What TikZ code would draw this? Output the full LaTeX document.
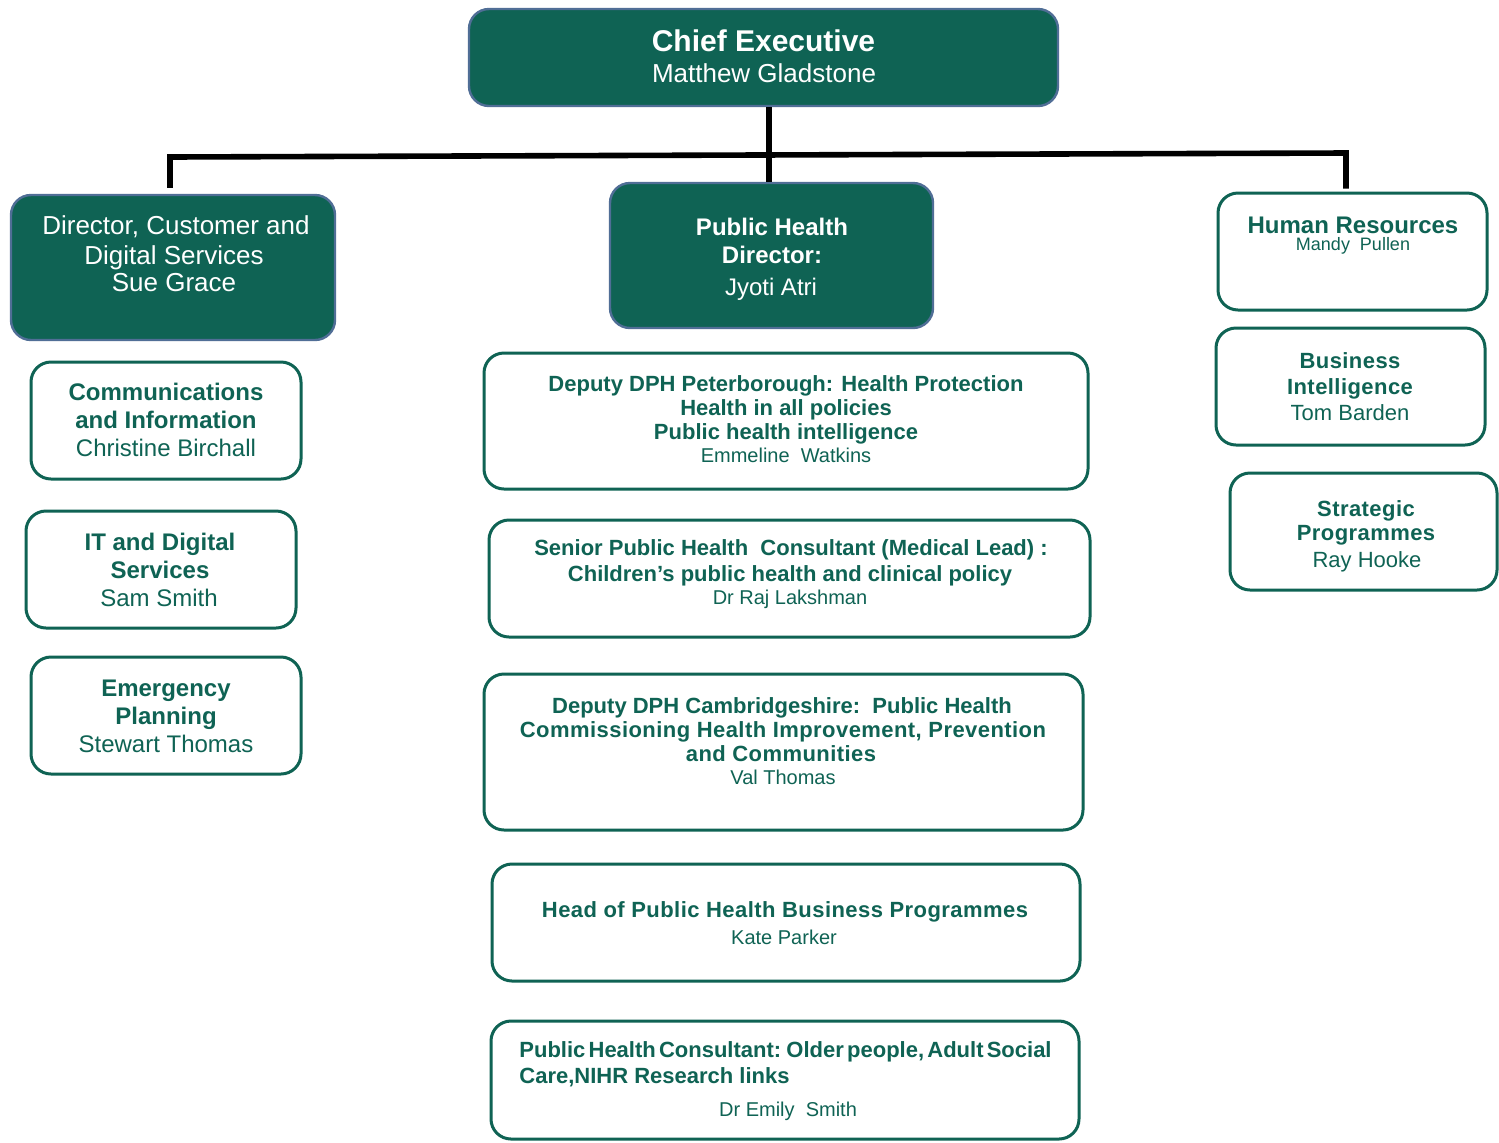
\documentclass[tikz,border=0pt]{standalone}
\usepackage{fontspec}
\setmainfont{Liberation Sans}
\definecolor{dkgreen}{RGB}{15,99,84}
\definecolor{bordblue}{RGB}{80,110,150}
\newcommand{\myfs}[1]{\fontsize{#1}{#1}\selectfont}
\newcommand{\lsp}{\addfontfeatures{LetterSpace=2}}
\tikzset{
 fbox/.style={draw=bordblue, line width=1.2pt, fill=dkgreen, rounded corners=10pt, inner sep=0pt},
 obox/.style={draw=dkgreen, line width=1.5pt, fill=white, rounded corners=10pt, inner sep=0pt},
 wt/.style={text=white, anchor=base, inner sep=0pt},
 gt/.style={text=dkgreen, anchor=base, inner sep=0pt},
 gl/.style={text=dkgreen, anchor=base west, inner sep=0pt},
 conn/.style={line width=2.8pt, black, line join=miter},
}
\begin{document}
\begin{tikzpicture}[x=0.5pt,y=-0.5pt]
\useasboundingbox[fill=white] (0,0) rectangle (1499,1142);
% boxes
\node[fbox, minimum width=294.5pt, minimum height=48.5pt] (ce) at (763.5,57.5) {};
\node[fbox, minimum width=162pt, minimum height=72.5pt] (dir) at (173,267.5) {};
\node[fbox, minimum width=161.5pt, minimum height=72.5pt] (phd) at (771.5,255.5) {};
\node[obox, minimum width=134.5pt, minimum height=58.5pt] (hr) at (1352.5,251.5) {};
\node[obox, minimum width=134.5pt, minimum height=58.5pt] (bi) at (1350.5,386.5) {};
\node[obox, minimum width=133.5pt, minimum height=58.5pt] (sp) at (1363.5,531.5) {};
\node[obox, minimum width=135pt, minimum height=58.5pt] (comm) at (166,420.5) {};
\node[obox, minimum width=135pt, minimum height=58.5pt] (it) at (161,569.5) {};
\node[obox, minimum width=135pt, minimum height=58.5pt] (ep) at (166,715.5) {};
\node[obox, minimum width=302pt, minimum height=68pt] (dpb) at (786,421) {};
\node[obox, minimum width=300.5pt, minimum height=58.5pt] (spc) at (789.5,578.5) {};
\node[obox, minimum width=299.5pt, minimum height=78pt] (dcb) at (783.5,752) {};
\node[obox, minimum width=294pt, minimum height=58.5pt] (head) at (786,922.5) {};
\node[obox, minimum width=294pt, minimum height=59pt] (phc) at (785,1080) {};
% connectors
\coordinate (jm) at (769,155);
\coordinate (jl) at (170,157);
\coordinate (jr) at (1346,153);
\draw[conn] (ce.south -| jm) -- (jm);
\draw[conn] (jm) -- (phd.north -| jm);
\draw[conn, shorten <=3pt, shorten >=1.5pt] (dir.north -| jl) -- (jl) -- (jr) -- (hr.north -| jr);
% texts
\node[wt, font=\myfs{15}\bfseries] (ce1) at (763.5,51) {Chief Executive};
\node[wt, font=\myfs{13}] (ce2) at (764,82) {Matthew Gladstone};
\node[wt, font=\myfs{13}] (dir1) at (176,234) {Director, Customer and};
\node[wt, font=\myfs{13}] (dir2) at (174,264) {Digital Services};
\node[wt, font=\myfs{13}] (dir3) at (174,291) {Sue Grace};
\node[wt, font=\myfs{12}\bfseries] (phd1) at (772,235) {Public Health};
\node[wt, font=\myfs{12}\bfseries] (phd2) at (772,263) {Director:};
\node[wt, font=\myfs{12}] (phd3) at (771,295) {Jyoti Atri};
\node[gt, font=\myfs{12}\bfseries] (hr1) at (1353,233) {Human Resources};
\node[gt, font=\myfs{9}] (hr2) at (1353,250.5) {Mandy\ \ Pullen};
\node[gt, font=\myfs{11}\bfseries\lsp] (bi1) at (1350,368) {Business};
\node[gt, font=\myfs{11}\bfseries\lsp] (bi2) at (1350,394) {Intelligence};
\node[gt, font=\myfs{11}] (bi3) at (1350,420) {Tom Barden};
\node[gt, font=\myfs{11}\bfseries\lsp] (sp1) at (1366,516) {Strategic};
\node[gt, font=\myfs{11}\bfseries\lsp] (sp2) at (1366,540) {Programmes};
\node[gt, font=\myfs{11}] (sp3) at (1367,567) {Ray Hooke};
\node[gt, font=\myfs{12}\bfseries] (comm1) at (166,400) {Communications};
\node[gt, font=\myfs{12}\bfseries] (comm2) at (166,428) {and Information};
\node[gt, font=\myfs{12}] (comm3) at (166,456) {Christine Birchall};
\node[gt, font=\myfs{12}\bfseries] (it1) at (160,550) {IT and Digital};
\node[gt, font=\myfs{12}\bfseries] (it2) at (160,578) {Services};
\node[gt, font=\myfs{12}] (it3) at (159,606) {Sam Smith};
\node[gt, font=\myfs{12}\bfseries] (ep1) at (166,696) {Emergency};
\node[gt, font=\myfs{12}\bfseries] (ep2) at (166,724) {Planning};
\node[gt, font=\myfs{12}] (ep3) at (166,752) {Stewart Thomas};
\node[gt, font=\myfs{11}\bfseries] (dpb1) at (786,391) {Deputy DPH Peterborough: Health Protection};
\node[gt, font=\myfs{11}\bfseries] (dpb2) at (786,415) {Health in all policies};
\node[gt, font=\myfs{11}\bfseries] (dpb3) at (786,439) {Public health intelligence};
\node[gt, font=\myfs{10}] (dpb4) at (786,462) {Emmeline\ \ Watkins};
\node[gt, font=\myfs{11}\bfseries] (spc1) at (791,555) {Senior Public Health\ \ Consultant (Medical Lead) :};
\node[gt, font=\myfs{11}\bfseries] (spc2) at (790,581) {Children’s public health and clinical policy};
\node[gt, font=\myfs{10}] (spc3) at (790,604) {Dr Raj Lakshman};
\node[gt, font=\myfs{11}\bfseries] (dcb1) at (782,713) {Deputy DPH Cambridgeshire:\ \ Public Health};
\node[gt, font=\myfs{11}\bfseries\lsp] (dcb2) at (783,737) {Commissioning Health Improvement, Prevention};
\node[gt, font=\myfs{11}\bfseries\lsp] (dcb3) at (781,761) {and Communities};
\node[gt, font=\myfs{10}] (dcb4) at (783,784) {Val Thomas};
\node[gt, font=\myfs{11}\bfseries\lsp] (head1) at (785,917) {Head of Public Health Business Programmes};
\node[gt, font=\myfs{10}] (head2) at (784,944) {Kate Parker};
\node[gl, font=\myfs{11}\bfseries] (phc1) at (519,1057) {\spaceskip=1.6pt plus 0.5pt\relax Public Health Consultant: Older people, Adult Social};
\node[gl, font=\myfs{11}\bfseries] (phc2) at (519,1083) {Care,NIHR Research links};
\node[gt, font=\myfs{10}] (phc3) at (788,1116) {Dr Emily\ \ Smith};
\end{tikzpicture}
\end{document}
